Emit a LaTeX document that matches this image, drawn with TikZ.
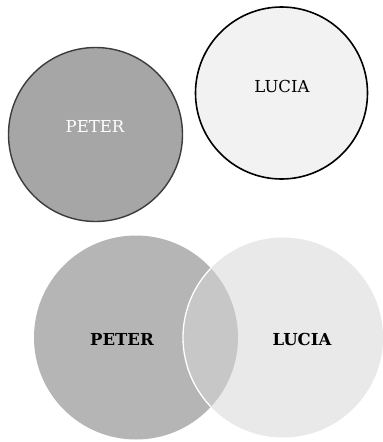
\documentclass[tikz,border=0pt]{standalone}
\usepackage{fontspec}
\setmainfont{DejaVu Serif}
\definecolor{pdark}{HTML}{A6A6A6}
\definecolor{pedge}{HTML}{3C3C3C}
\definecolor{llight}{HTML}{F2F2F2}
\definecolor{pmid}{HTML}{B5B5B5}
\definecolor{lmid}{HTML}{E9E9E9}
\definecolor{lens}{HTML}{C7C7C7}
\begin{document}
\begin{tikzpicture}[x=1pt,y=-1pt,
  lbl/.style={font=\fontsize{16.5}{18}\selectfont, inner sep=0pt},
  blbl/.style={font=\fontsize{16.5}{18}\selectfont\bfseries, inner sep=0pt}]
\useasboundingbox[fill=white] (0,0) rectangle (383,442);
% top circles
\node[circle, minimum size=174pt, inner sep=0pt, fill=pdark, draw=pedge, line width=1.4pt] (p1) at (95.5,134.5) {};
\node[circle, minimum size=172pt, inner sep=0pt, fill=llight, draw=black, line width=1.6pt] (l1) at (281.5,93) {};
\node[lbl, text=white] (pt1) at (95,126) {PETER};
\node[lbl, text=black] (lt1) at (282,86) {LUCIA};
% bottom Venn
\coordinate (pc) at (136,337.5);
\coordinate (lc) at (283,337.5);
\fill[pmid] (pc) circle (102);
\fill[lmid] (lc) circle (100);
\begin{scope}
  \clip (pc) circle (102);
  \fill[lens] (lc) circle (100);
\end{scope}
\begin{scope}
  \clip (pc) circle (102);
  \draw[white, line width=1.3pt] (lc) circle (100);
\end{scope}
\node[blbl] (p2) at (122,339) {PETER};
\node[blbl] (l2) at (302,339) {LUCIA};
\end{tikzpicture}
\end{document}
